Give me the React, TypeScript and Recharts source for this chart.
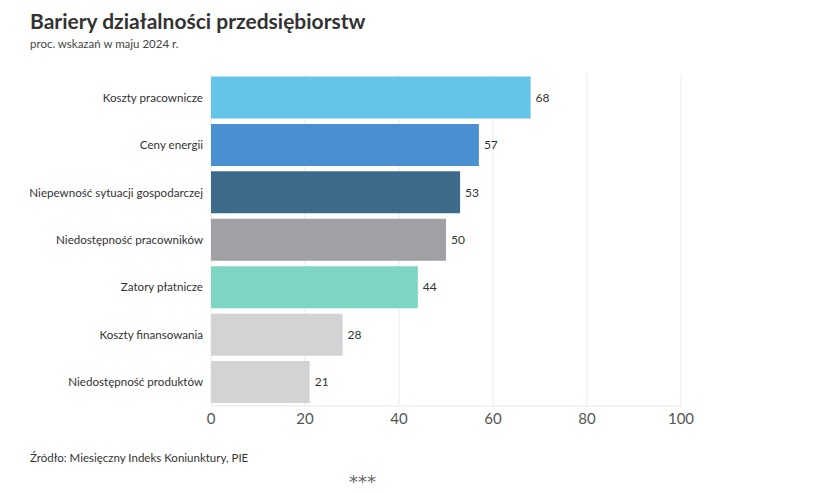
import { Bar, BarChart, CartesianGrid, Cell, LabelList, XAxis, YAxis } from "recharts";

const categories = [
  "Koszty pracownicze",
  "Ceny energii",
  "Niepewność sytuacji gospodarczej",
  "Niedostępność pracowników",
  "Zatory płatnicze",
  "Koszty finansowania",
  "Niedostępność produktów",
];
const values = [68, 57, 53, 50, 44, 28, 21];
const barColors = ["#64c4ea", "#4a90d0", "#3e6b8c", "#a0a1a5", "#7dd5c3", "#d3d3d5", "#d3d3d5"];
const xTicks = [0, 20, 40, 60, 80, 100];

const data = categories.map((name, i) => ({ name, value: values[i] }));

const FONT = "Lato, 'Noto Sans', sans-serif";

// plain single-line tick so long labels don't wrap
function CategoryTick({ x, y, payload }: any) {
  return (
    <text x={x} y={y} dy="0.35em" textAnchor="end" fontSize={11.6} fill="#333" fontFamily={FONT}>
      {payload.value}
    </text>
  );
}

export default function App() {
  return (
    <div
      style={{
        position: "absolute",
        left: 0,
        top: 0,
        width: 828,
        height: 493,
        background: "#fff",
        fontFamily: FONT,
        color: "#333",
      }}
    >
      <div style={{ position: "absolute", left: 30, top: 8, fontSize: 21, fontWeight: 700, color: "#333" }}>
        Bariery działalności przedsiębiorstw
      </div>
      <div style={{ position: "absolute", left: 30, top: 37, fontSize: 11.5, color: "#444" }}>
        proc. wskazań w maju 2024 r.
      </div>
      <BarChart
        width={828}
        height={493}
        data={data}
        layout="vertical"
        margin={{ top: 74, right: 147, bottom: 57, left: 0 }}
        barCategoryGap={2.5}
      >
        <CartesianGrid horizontal={false} stroke="#ebebeb" />
        <XAxis
          type="number"
          domain={[0, 100]}
          ticks={xTicks}
          height={30}
          tickLine={false}
          tickSize={0}
          tickMargin={7}
          axisLine={{ stroke: "#e6e6e6" }}
          tick={{ fontSize: 15, fill: "#555", fontFamily: FONT }}
        />
        <YAxis
          type="category"
          dataKey="name"
          width={211}
          tickLine={false}
          axisLine={false}
          tickSize={0}
          tickMargin={8}
          tick={<CategoryTick />}
        />
        <Bar dataKey="value" isAnimationActive={false}>
          {data.map((d, i) => (
            <Cell key={d.name} fill={barColors[i]} />
          ))}
          <LabelList dataKey="value" position="right" offset={5} style={{ fontSize: 12, fill: "#333", fontFamily: FONT }} />
        </Bar>
      </BarChart>
      <div style={{ position: "absolute", left: 30, top: 451, fontSize: 11.5, color: "#333" }}>
        Źródło: Miesięczny Indeks Koniunktury, PIE
      </div>
      <div
        style={{
          position: "absolute",
          left: 349,
          top: 474,
          fontSize: 18,
          lineHeight: "16px",
          fontFamily: "'DejaVu Sans', sans-serif",
          color: "#666",
        }}
      >
        ***
      </div>
    </div>
  );
}
